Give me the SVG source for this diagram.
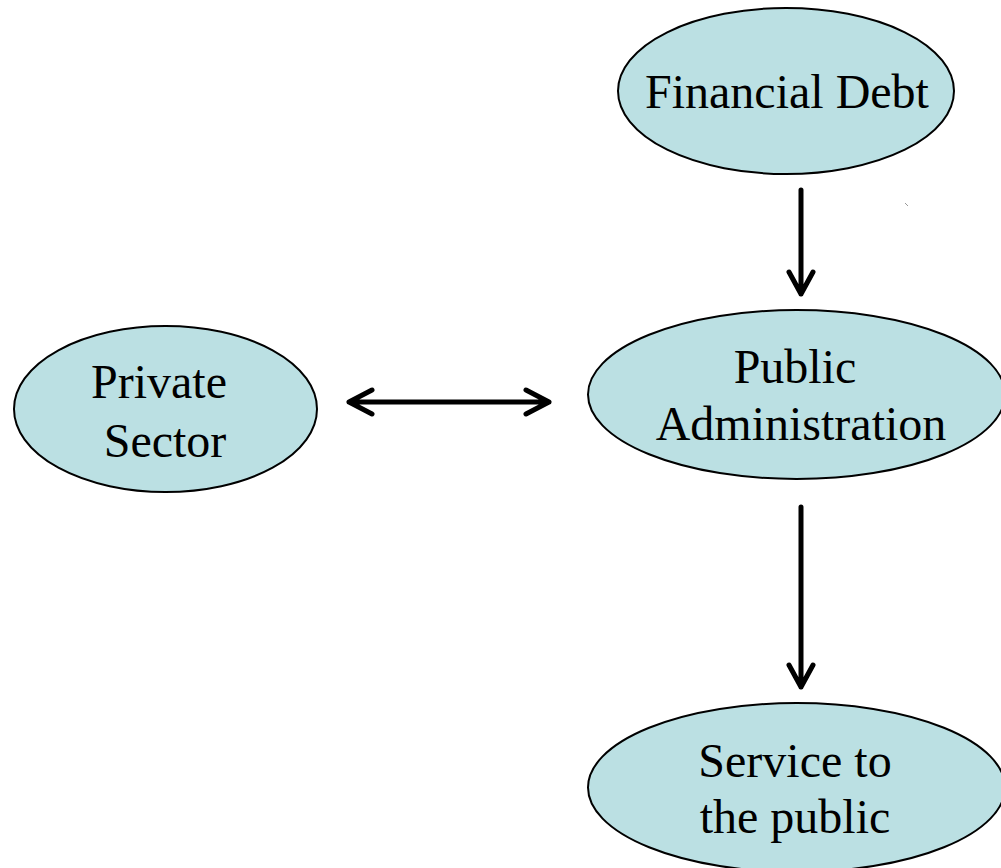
<svg xmlns="http://www.w3.org/2000/svg" width="1001" height="868" viewBox="0 0 1001 868">
<style>
.node ellipse{fill:#bbe0e3;stroke:#000;stroke-width:2}
.node text{font-family:"Liberation Serif","Times New Roman",serif;font-size:48px;fill:#000;text-anchor:middle}
.conn{stroke:#000;stroke-width:5;fill:none;stroke-linecap:round;stroke-linejoin:round}
</style>
<rect width="1001" height="868" fill="#fff"/>
<g id="financial-debt" class="node">
<ellipse cx="786" cy="91" rx="168" ry="83"/>
<text x="787" y="108">Financial Debt</text>
</g>
<g id="private-sector" class="node">
<ellipse cx="165.5" cy="409" rx="151.5" ry="83"/>
<text x="159" y="398">Private</text>
<text x="165" y="457">Sector</text>
</g>
<g id="public-administration" class="node">
<ellipse cx="796.5" cy="394.5" rx="208.5" ry="84.5"/>
<text x="795" y="383">Public</text>
<text x="801" y="440">Administration</text>
</g>
<g id="service-to-the-public" class="node">
<ellipse cx="796.5" cy="787.5" rx="208.5" ry="84.5"/>
<text x="795" y="777">Service to</text>
<text x="795" y="833">the public</text>
</g>
<g id="connectors">
<path class="conn" d="M801 190 V294 M789 272 L801 294 L813 272"/>
<path class="conn" d="M801 507 V687 M789 665 L801 687 L813 665"/>
<path class="conn" d="M349 402 H549 M372 390 L349 402 L372 414 M526 390 L549 402 L526 414"/>
</g>
<line x1="905" y1="203" x2="908" y2="206" stroke="#999" stroke-width="1"/>
</svg>
